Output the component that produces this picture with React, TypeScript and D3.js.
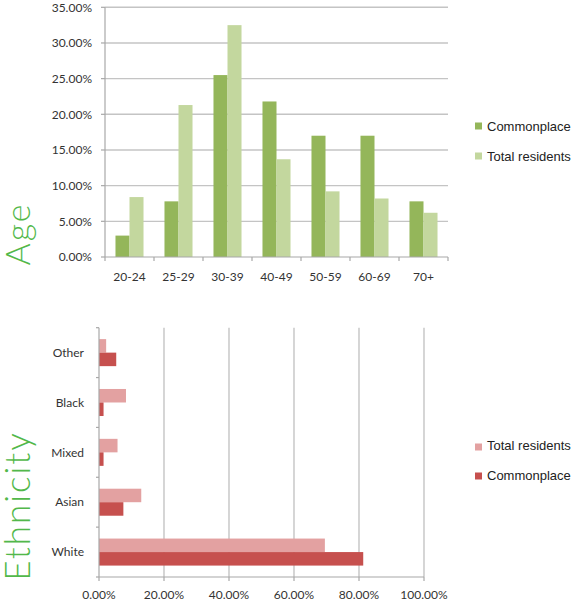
import React from "react";
import * as d3 from "d3";

// Age breakdown (percent of respondents)
const ageGroups = ["20-24", "25-29", "30-39", "40-49", "50-59", "60-69", "70+"];
const ageCommonplace = [3.0, 7.8, 25.5, 21.8, 17.0, 17.0, 7.8];
const ageResidents = [8.4, 21.3, 32.5, 13.7, 9.2, 8.2, 6.2];
const ageTicks = [0, 5, 10, 15, 20, 25, 30, 35];

// Ethnicity breakdown (percent), listed top to bottom
const ethnicGroups = ["Other", "Black", "Mixed", "Asian", "White"];
const ethnicResidents = [2.2, 8.3, 5.7, 13.0, 69.5];
const ethnicCommonplace = [5.3, 1.4, 1.4, 7.5, 81.3];
const ethnicTicks = [0, 20, 40, 60, 80, 100];

const GREEN_DARK = "#94b65a";
const GREEN_LIGHT = "#c3d79e";
const RED_DARK = "#c6504e";
const RED_LIGHT = "#e3a1a1";
const GRID = "#c4c4c4";
const AXIS = "#a8a8a8";
const LABEL = "#333333";
const TITLE_GREEN = "#52b84a";
const TICK_FONT = "Lato, 'Open Sans', sans-serif";
const LEGEND_FONT = "'Liberation Sans', Arial, sans-serif";
const TITLE_FONT = "Lato, 'Open Sans', sans-serif";

const fmt = (v: number) => v.toFixed(2) + "%";

function AgeChart() {
  const left = 105, right = 448, top = 7.3, bottom = 257;
  const x0 = d3.scaleBand<string>().domain(ageGroups).range([left, right]);
  const step = x0.step();
  const x1 = d3.scaleBand<string>().domain(["c", "r"]).range([step * 0.214, step * 0.786]);
  const y = d3.scaleLinear().domain([0, 35]).range([bottom, top]);
  const boundaries = d3.range(ageGroups.length + 1).map((i) => left + i * step);

  return (
    <g>
      {ageTicks.map((t) => (
        <g key={t}>
          {t > 0 && (
            <line x1={left} x2={right} y1={y(t)} y2={y(t)} stroke={GRID} strokeWidth={1.4} />
          )}
          <line x1={left - 4} x2={left} y1={y(t)} y2={y(t)} stroke={AXIS} strokeWidth={1.2} />
          <text x={left - 13} y={y(t)} dy="0.35em" textAnchor="end" fontFamily={TICK_FONT}
            fontSize={12} fill={LABEL}>{fmt(t)}</text>
        </g>
      ))}
      {ageGroups.map((g, i) => (
        <g key={g}>
          <rect x={x0(g)! + x1("c")!} width={x1.bandwidth()} y={y(ageCommonplace[i])}
            height={bottom - y(ageCommonplace[i])} fill={GREEN_DARK} />
          <rect x={x0(g)! + x1("r")!} width={x1.bandwidth()} y={y(ageResidents[i])}
            height={bottom - y(ageResidents[i])} fill={GREEN_LIGHT} />
          <text x={x0(g)! + step / 2} y={281} textAnchor="middle" fontFamily={TICK_FONT}
            fontSize={12} fill={LABEL}>{g}</text>
        </g>
      ))}
      <line x1={left} x2={left} y1={top} y2={bottom} stroke={AXIS} strokeWidth={1.2} />
      <line x1={left} x2={right} y1={bottom} y2={bottom} stroke={AXIS} strokeWidth={1.2} />
      {boundaries.map((bx, i) => (
        <line key={i} x1={bx} x2={bx} y1={bottom} y2={bottom + 4} stroke={AXIS} strokeWidth={1.2} />
      ))}
      {/* legend */}
      <rect x={475} y={122.5} width={7} height={7} fill={GREEN_DARK} />
      <text x={487} y={126} dy="0.35em" fontFamily={LEGEND_FONT} fontSize={13} fill="#222">Commonplace</text>
      <rect x={475} y={152.5} width={7} height={7} fill={GREEN_LIGHT} />
      <text x={487} y={156} dy="0.35em" fontFamily={LEGEND_FONT} fontSize={13} fill="#222">Total residents</text>
      {/* side title */}
      <text transform="translate(30,234) rotate(-90)" textAnchor="middle" fontFamily={TITLE_FONT}
        fontWeight={300} fontSize={34} fill={TITLE_GREEN} letterSpacing={2}>Age</text>
    </g>
  );
}

function EthnicityChart() {
  const left = 99, right = 424, top = 327.7, bottom = 577;
  const y0 = d3.scaleBand<string>().domain(ethnicGroups).range([top, bottom]);
  const step = y0.step();
  const y1 = d3.scaleBand<string>().domain(["r", "c"]).range([step * 0.229, step * 0.771]);
  const x = d3.scaleLinear().domain([0, 100]).range([left, right]);
  const boundaries = d3.range(ethnicGroups.length + 1).map((i) => top + i * step);

  return (
    <g>
      {ethnicTicks.map((t) => (
        <g key={t}>
          {t > 0 && (
            <line x1={x(t)} x2={x(t)} y1={top} y2={bottom} stroke={GRID} strokeWidth={1.4} />
          )}
          <line x1={x(t)} x2={x(t)} y1={bottom} y2={bottom + 4} stroke={AXIS} strokeWidth={1.2} />
          <text x={x(t)} y={595} dy="0.35em" textAnchor="middle" fontFamily={TICK_FONT}
            fontSize={12} fill={LABEL}>{fmt(t)}</text>
        </g>
      ))}
      {ethnicGroups.map((g, i) => (
        <g key={g}>
          <rect x={left} y={y0(g)! + y1("r")!} height={y1.bandwidth()}
            width={x(ethnicResidents[i]) - left} fill={RED_LIGHT} />
          <rect x={left} y={y0(g)! + y1("c")!} height={y1.bandwidth()}
            width={x(ethnicCommonplace[i]) - left} fill={RED_DARK} />
          <text x={left - 15} y={y0(g)! + step / 2} dy="0.35em" textAnchor="end" fontFamily={TICK_FONT}
            fontSize={12} fill={LABEL}>{g}</text>
        </g>
      ))}
      <line x1={left} x2={left} y1={top} y2={bottom} stroke={AXIS} strokeWidth={1.2} />
      <line x1={left} x2={right} y1={bottom} y2={bottom} stroke={AXIS} strokeWidth={1.2} />
      {boundaries.map((by, i) => (
        <line key={i} x1={left - 3} x2={left} y1={by} y2={by} stroke={AXIS} strokeWidth={1.2} />
      ))}
      {/* legend */}
      <rect x={475} y={443.5} width={7} height={7} fill={RED_LIGHT} />
      <text x={487} y={445} dy="0.35em" fontFamily={LEGEND_FONT} fontSize={13} fill="#222">Total residents</text>
      <rect x={475} y={472.5} width={7} height={7} fill={RED_DARK} />
      <text x={487} y={475} dy="0.35em" fontFamily={LEGEND_FONT} fontSize={13} fill="#222">Commonplace</text>
      {/* side title */}
      <text transform="translate(30,506) rotate(-90)" textAnchor="middle" fontFamily={TITLE_FONT}
        fontWeight={300} fontSize={35} fill={TITLE_GREEN} letterSpacing={2}>Ethnicity</text>
    </g>
  );
}

export default function App() {
  return (
    <svg width={573} height={602} style={{ position: "absolute", left: 0, top: 0, background: "#fff" }}>
      <rect width={573} height={602} fill="#fff" />
      <AgeChart />
      <EthnicityChart />
    </svg>
  );
}
